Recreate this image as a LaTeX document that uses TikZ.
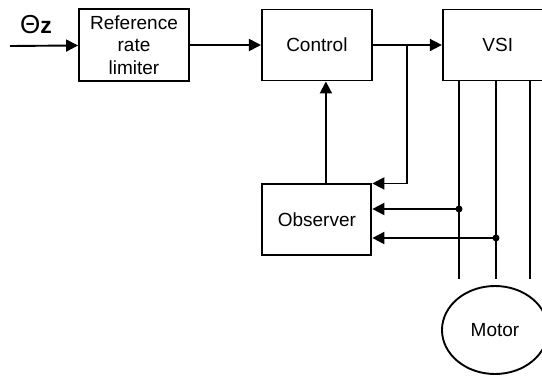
\documentclass[tikz,border=0pt]{standalone}
\usepackage{fontspec}
\setmainfont{Liberation Sans}
\usetikzlibrary{arrows.meta,calc,positioning,shapes.geometric}

\tikzset{
  block/.style={draw, line width=1.9pt, minimum width=110pt, minimum height=71pt,
    inner sep=2pt, align=center, font=\fontsize{19}{22.5}\selectfont},
  sig/.style={line width=1.9pt, -{Triangle[length=12pt,width=12pt]}},
  wire/.style={line width=1.9pt},
  dot/.style={circle, fill, inner sep=0pt, minimum size=7pt},
}

\begin{document}
\begin{tikzpicture}[x=1pt,y=-1pt]
	\useasboundingbox (0,0) rectangle (542,376);
	\clip (0,0) rectangle (542,376);
	% Draw the blocks
	\node[block, minimum height=72pt] (ref) at (134,45) {Reference\\rate\\limiter};
	\node[block, right=71pt of ref]  (ctrl) {Control};
	\node[block, right=69pt of ctrl] (vsi)  {VSI};
	\node[block, below=102pt of ctrl, minimum width=109pt] (obs) {Observer};
	\node[draw, ellipse, line width=1.9pt, minimum width=106pt, minimum height=88pt,
		font=\fontsize{19}{22}\selectfont] (motor) at (495,330) {Motor};
	% Input
	\node (theta) at (36,25) {\fontsize{26}{26}\selectfont Θ\fontsize{23}{23}\selectfont\textbf{z}};
	\coordinate (in) at (10,46);
	\coordinate (br) at ($(ctrl.east)!0.5!(vsi.west)$);
	% Connect the blocks with arrows
	\draw[sig] (in) -- (ref);
	\draw[sig] (ref) -- (ctrl);
	\draw[sig] (ctrl) -- (vsi);
	\draw[sig] (br) |- (obs.north east);
	\draw[sig] ([xshift=9pt]obs.north) -- ([xshift=9pt]obs.north |- ctrl.south);
	% Motor phases
	\foreach \i/\x in {1/459,2/496,3/530} {
		\coordinate (a\i) at (\x,81);
		\coordinate (b\i) at (\x,279);
		\draw[wire] (a\i) -- (b\i);
	}
	% Measured currents
	\node[dot] (d1) at (459,209) {};
	\node[dot] (d2) at (496,238) {};
	\draw[sig] (d1.center) -- (d1 -| obs.east);
	\draw[sig] (d2.center) -- (d2 -| obs.east);
\end{tikzpicture}
\end{document}
